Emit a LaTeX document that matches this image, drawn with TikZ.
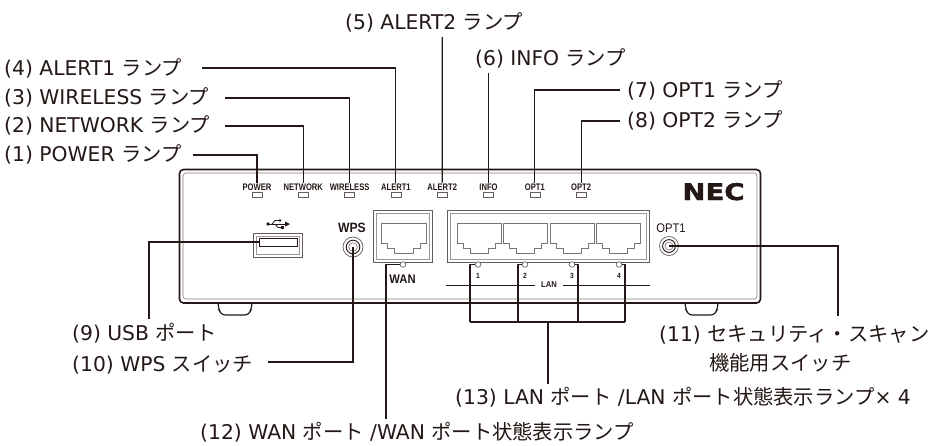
\documentclass[tikz,border=0pt]{standalone}
\usepackage{fontspec}
\setmainfont{DejaVu Sans}
\newfontfamily\jp{Noto Sans CJK JP}
\newfontfamily\ledf[FakeStretch=0.8]{Liberation Sans}
\newfontfamily\lblf[FakeStretch=0.9]{Liberation Sans}
\newfontfamily\necf[FakeStretch=1.2,FakeBold=1.6]{DejaVu Sans}
\definecolor{ink}{HTML}{231815}
\newcommand\rjjack[2]{%
  \draw[jackline] (#1,223) -- ++(#2,0) -- ++(0,20) -- ++(-6,0) -- ++(0,5) -- ++(-7,0) -- ++(0,5)
    -- ++(-#2+26,0) -- ++(0,-5) -- ++(-7,0) -- ++(0,-5) -- ++(-6,0) -- cycle;}
\begin{document}
\begin{tikzpicture}[x=1pt,y=-1pt,
  lab/.style={anchor=base west, inner sep=0pt, text=ink, font=\fontsize{20.3}{24}\selectfont},
  ledlab/.style={anchor=base, inner sep=1pt, text=ink, font=\ledf\bfseries\fontsize{9.5}{10}\selectfont},
  ledrect/.style={draw=ink!70, line width=0.6pt, minimum width=10pt, minimum height=4.6pt, inner sep=0pt},
  ledc/.style={circle, draw=ink!75, fill=white, line width=0.6pt, minimum size=5.6pt, inner sep=0pt},
  leader/.style={draw=ink, line width=1.1pt},
  jackline/.style={draw=ink!60, line width=0.9pt},
  portout/.style={draw=ink!70, line width=0.9pt},
  portin/.style={draw=ink!45, line width=0.6pt},
  btn/.style={circle, draw=ink!70, line width=0.7pt, inner sep=0pt}
]
\fill[white] (0,0) rectangle (936,445);
\useasboundingbox (0,0) rectangle (936,445);

% device body
\draw[ink, line width=1.2pt, rounded corners=3pt] (218,303) -- (219,310) -- (222,315) -- (248,315) -- (251,310) -- (252,303);
\draw[ink, line width=1.2pt, rounded corners=3pt] (685,303) -- (686,310) -- (689,315) -- (714,315) -- (717,310) -- (718,303);
\draw[ink, line width=1.6pt, rounded corners=4pt, fill=white] (179.5,169.5) rectangle (760.5,303);
\draw[ink!55, line width=0.6pt, rounded corners=3pt] (183,173) rectangle (757,299);

% USB
\draw[portout] (253,233) rectangle (302,257);
\draw[portin] (256,236) rectangle (299,254);
\node[draw=ink, line width=0.8pt, minimum width=38pt, minimum height=8pt, inner sep=0pt] (slot) at (278,242) {};
% USB symbol
\fill[ink] (268,224) circle (1.9pt);
\draw[ink, line width=0.9pt] (268,224) -- (286,224);
\fill[ink] (285,221.5) -- (290,224) -- (285,226.5) -- cycle;
\draw[ink, line width=0.8pt] (272,224) -- (275,220.5) -- (279,220.5);
\fill[ink] (280,220.5) circle (1.4pt);
\draw[ink, line width=0.8pt] (275,224) -- (278,227.5) -- (281,227.5);
\fill[ink] (280.5,226) rectangle (283.5,229);

% WPS
\node[anchor=base, inner sep=0pt, text=ink, font=\lblf\bfseries\fontsize{13.5}{14}\selectfont] (wpst) at (352,232) {WPS};
\node[btn, minimum size=20pt] (wps) at (353,247) {};
\draw[ink, line width=0.9pt] (wps.center) circle (6.8pt);
\draw[ink!60, line width=0.6pt] (wps.center) circle (4.3pt);

% WAN port
\draw[portout] (373,210) rectangle (432,262);
\draw[portin] (376,213) rectangle (429,259);
\rjjack{381}{45}
\node[ledc] (W) at (403,264.5) {};
\node[anchor=base, inner sep=0pt, text=ink, font=\lblf\bfseries\fontsize{12.5}{13}\selectfont] (want) at (402.5,283) {WAN};

% LAN ports
\draw[portout] (447,210) rectangle (649,262);
\draw[portin] (450,213) rectangle (646,259);
\rjjack{457}{44}
\rjjack{503.5}{44}
\rjjack{550}{44}
\rjjack{596.5}{44}
\node[ledc] (Q1) at (478,264.5) {};
\node[ledc] (Q2) at (525,264.5) {};
\node[ledc] (Q3) at (572,264.5) {};
\node[ledc] (Q4) at (619,264.5) {};
\foreach \n/\xx in {1/478,2/525,3/572,4/619}
  \node[anchor=base, inner sep=0pt, text=ink, font=\lblf\bfseries\fontsize{7.5}{8}\selectfont] (num\n) at (\xx,278) {\n};
\node[inner xsep=6pt, inner ysep=0pt, text=ink, font=\lblf\bfseries\fontsize{8.5}{9}\selectfont] (lan) at (549,285) {LAN};
\coordinate (lanL) at (446,285);
\coordinate (lanR) at (650,285);
\draw[ink, line width=0.9pt] (lanL) -- (lan.west);
\draw[ink, line width=0.9pt] (lan.east) -- (lanR);

% OPT1 switch
\node[anchor=base, inner sep=0pt, text=ink, font=\lblf\fontsize{12.5}{13}\selectfont] (optt) at (671,232) {OPT1};
\node[btn, minimum size=19pt] (opt) at (669,246) {};
\draw[ink, line width=0.9pt] (opt.center) circle (6.4pt);
\draw[ink!60, line width=0.6pt] (opt.center) circle (4pt);

% NEC logo
\node[anchor=base, inner sep=0pt, text=ink, font=\necf\bfseries\fontsize{23}{24}\selectfont] (nec) at (713.5,200) {NEC};

% LEDs
\foreach \t [count=\i from 0] in {POWER,NETWORK,WIRELESS,ALERT1,ALERT2,INFO,OPT1,OPT2} {
  \pgfmathsetmacro\xx{257+46.3*\i}
  \node[ledlab] (L\i) at (\xx,190.5) {\t};
  \node[ledrect] (R\i) at (\xx,195) {};
}

% labels
\node[lab] (t1) at (4,161) {(1) POWER {\jp ランプ}};
\node[lab] (t2) at (4,132) {(2) NETWORK {\jp ランプ}};
\node[lab] (t3) at (4,104) {(3) WIRELESS {\jp ランプ}};
\node[lab] (t4) at (4,75) {(4) ALERT1 {\jp ランプ}};
\node[lab] (t5) at (345,29) {(5) ALERT2 {\jp ランプ}};
\node[lab] (t6) at (475,65) {(6) INFO {\jp ランプ}};
\node[lab] (t7) at (627,97) {(7) OPT1 {\jp ランプ}};
\node[lab] (t8) at (627,127) {(8) OPT2 {\jp ランプ}};
\node[lab] (t9) at (72,340) {(9) USB {\jp ポート}};
\node[lab] (t10) at (72,371) {(10) WPS {\jp スイッチ}};
\node[lab] (t11) at (659,341) {(11) {\jp セキュリティ・スキャン}};
\node[lab] (t11b) at (709,370) {{\jp 機能用スイッチ}};
\node[lab] (t12) at (200,439) {(12) WAN {\jp ポート} /WAN {\jp ポート状態表示ランプ}};
\node[lab] (t13) at (455,404) {(13) LAN {\jp ポート} /LAN {\jp ポート状態表示ランプ}× 4};

% leaders, top
\coordinate (c1) at (193,155);
\coordinate (c2) at (225,126);
\coordinate (c3) at (225,98);
\coordinate (c4) at (202,68);
\coordinate (c5) at (442.2,37);
\coordinate (c6) at (488.5,73);
\coordinate (c7) at (620,90);
\coordinate (c8) at (620,121);
\draw[leader] (c1) -| (L0.north);
\draw[leader] (c2) -| (L1.north);
\draw[leader] (c3) -| (L2.north);
\draw[leader] (c4) -| (L3.north);
\draw[leader] (c5) -- (L4.north);
\draw[leader] (c6) -- (L5.north);
\draw[leader] (c7) -| (L6.north);
\draw[leader] (c8) -| (L7.north);

% leaders, bottom
\coordinate (c9) at (149,319);
\coordinate (c10) at (268,362);
\coordinate (c11) at (838,316);
\coordinate (c12) at (386,419);
\coordinate (b1) at (470,322);
\coordinate (b2) at (518,322);
\coordinate (b3) at (578,322);
\coordinate (b4) at (625,322);
\coordinate (bm) at (548,322);
\coordinate (c13) at (548,384);
\draw[leader] (slot.west) -| (c9);
\draw[leader] (wps.center) |- (c10);
\draw[leader] (opt.center) -| (c11);
\draw[leader] (W.west) -| (c12);
\draw[leader] (Q1.west) -| (b1);
\draw[leader] (Q2.west) -| (b2);
\draw[leader] (Q3.east) -| (b3);
\draw[leader] (Q4.east) -| (b4);
\draw[leader] (b1) -- (b4);
\draw[leader] (bm) -- (c13);
\end{tikzpicture}
\end{document}
